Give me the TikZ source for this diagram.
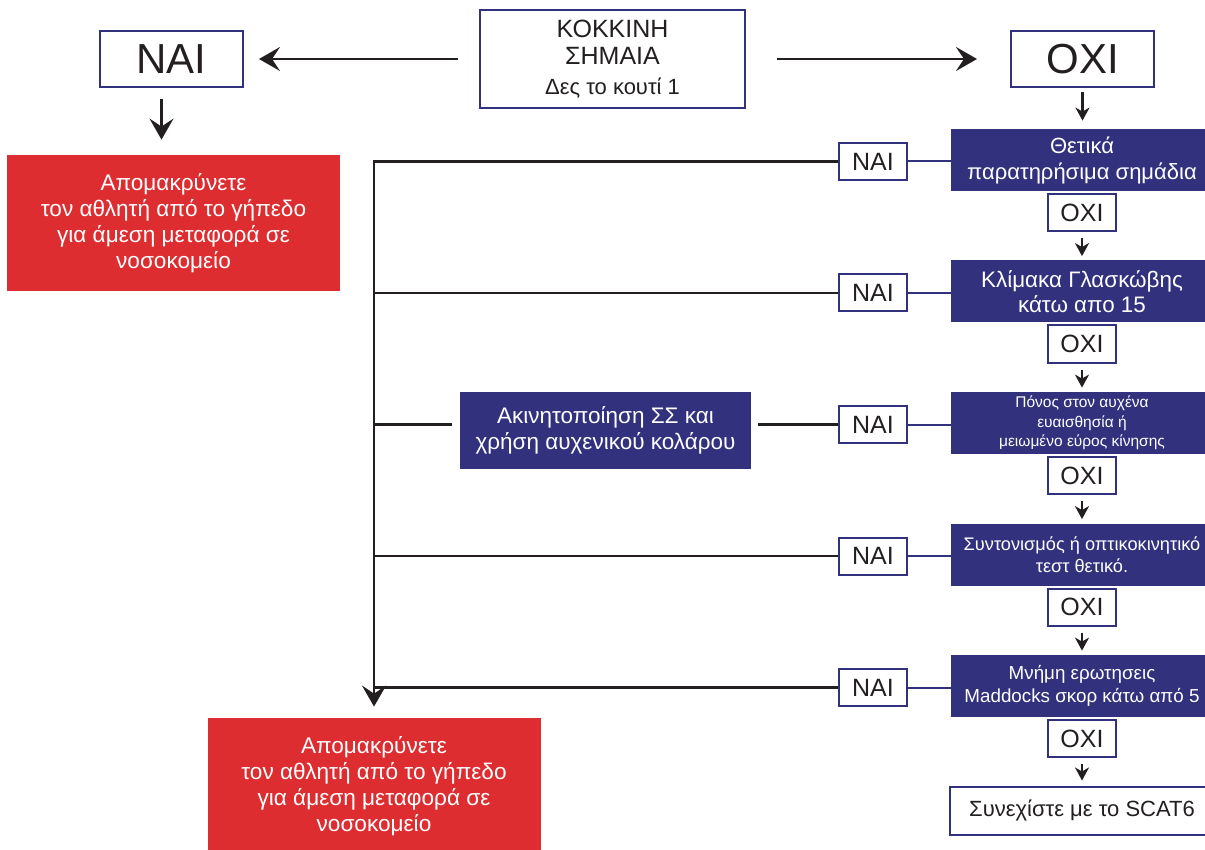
\documentclass[tikz,border=0pt]{standalone}
\usepackage{fontspec}
\setmainfont{Liberation Sans}
\usepackage{tikz}
\usetikzlibrary{positioning}
\usetikzlibrary{arrows.meta,shapes}
\usetikzlibrary{calc}

\definecolor{flagnavy}{RGB}{50,49,126}
\definecolor{flagred}{RGB}{221,45,48}
\definecolor{inkdark}{RGB}{35,31,32}

\begin{document}
\begin{tikzpicture}[x=0.5pt, y=-0.5pt,
   whitebox/.style={draw=flagnavy, line width=1pt, fill=white, text=inkdark, inner sep=0pt, align=center},
   bluebox/.style={fill=flagnavy, text=white, inner sep=0pt, align=center, minimum width=131pt, minimum height=31pt},
   redbox/.style={fill=flagred, text=white, inner sep=0pt, align=center, minimum width=166.5pt, minimum height=68pt, font=\fontsize{11.3}{13}\selectfont},
   answer/.style={whitebox, minimum width=34pt, minimum height=18.5pt, font=\fontsize{12.5}{13}\selectfont},
   bigbox/.style={whitebox, minimum width=71.5pt, minimum height=28pt, font=\fontsize{21}{22}\selectfont},
   flow/.style={inkdark, line width=1.1pt},
   link/.style={flagnavy, line width=1pt},
   bigtip/.style={-{Stealth[length=10.5pt, width=12pt, inset=4pt]}},
   smalltip/.style={-{Stealth[length=6.5pt, width=7pt, inset=2pt]}}]

 \useasboundingbox (0,0) rectangle (1205,850);

	%top row
 \node[whitebox, minimum width=132.5pt, minimum height=49pt, font=\fontsize{12.5}{13.5}\selectfont] (flag) at (612.5,59) {ΚΟΚΚΙΝΗ\\ΣΗΜΑΙΑ\\[1.5pt]{\fontsize{11}{13}\selectfont Δες το κουτί 1}};
 \node[bigbox] (yestop) at (171.5,59) {ΝΑΙ};
 \node[bigbox] (notop) at (1082.5,59) {ΟΧΙ};

    \draw[flow, bigtip, shorten <=10.5pt, shorten >=7.5pt] (flag.west) -- (yestop.east);
    \draw[flow, bigtip, shorten <=15.5pt, shorten >=16.5pt] (flag.east) -- (notop.west);

 %red boxes
 \node[redbox] (leaveone) at (173.5,223) {Απομακρύνετε\\τον αθλητή από το γήπεδο\\για άμεση μεταφορά σε\\νοσοκομείο};
 \node[redbox] (leavetwo) at (374,786) {Απομακρύνετε\\τον αθλητή από το γήπεδο\\για άμεση μεταφορά σε\\νοσοκομείο};

 \coordinate (downstart) at ([xshift=-5pt]yestop.south);
    \draw[flow, bigtip, shorten <=5.5pt, shorten >=7.5pt] (downstart) -- (downstart |- leaveone.north);

	%checks, right column
    \foreach \i/\fs/\bs/\txt in {0/11/13/{Θετικά\\παρατηρήσιμα σημάδια},
                                 1/11.2/12.5/{Κλίμακα Γλασκώβης\\κάτω απο 15},
                                 2/7.75/9.7/{Πόνος στον αυχένα\\ευαισθησία ή\\μειωμένο εύρος κίνησης},
                                 3/9.1/10.9/{Συντονισμός ή οπτικοκινητικό\\τεστ θετικό.},
                                 4/9.4/11.2/{Μνήμη ερωτησεις\\Maddocks σκορ κάτω από 5}}{
         \node[bluebox, font=\fontsize{\fs}{\bs}\selectfont] (check\i) at (1082, 160+131.5*\i) {\txt};
         \node[answer] (yes\i) at (873, 161.5+131.5*\i) {ΝΑΙ};
         \node[answer] (no\i) at (1082, 212.5+131.5*\i) {ΟΧΙ};
         \draw[link] (yes\i.east) -- (yes\i.east -| check\i.west);
    }

 \node[whitebox, minimum width=132pt, minimum height=24pt, font=\fontsize{11}{13}\selectfont] (goon) at (1082,810.5) {Συνεχίστε με το SCAT6};

    \draw[flow, smalltip, shorten <=2pt, shorten >=4pt] (notop.south) -- (notop.south |- check0.north);
    \foreach \i/\j in {0/1,1/2,2/3,3/4}{
         \draw[flow, smalltip, shorten <=3pt, shorten >=2pt] (no\i.south) -- (no\i.south |- check\j.north);
    }
    \draw[flow, smalltip, shorten <=3pt, shorten >=2.5pt] (no4.south) -- (no4.south |- goon.north);

	%left branch
 \node[bluebox, minimum width=145.5pt, minimum height=38.5pt, font=\fontsize{11.25}{13}\selectfont] (immob) at (605.5,430.5) {Ακινητοποίηση ΣΣ και\\χρήση αυχενικού κολάρου};

    \draw[flow, bigtip, shorten >=5.5pt] (yes0.west) -| (leavetwo.north);
    \foreach \i in {1,3,4}{
         \draw[flow] (yes\i.west) -- (yes\i.west -| leavetwo.north);
    }
    \draw[flow, shorten >=3.5pt] (yes2.west) -- (yes2.west -| immob.east);
    \draw[flow, shorten <=4pt] (yes2.west -| immob.west) -- (yes2.west -| leavetwo.north);

\end{tikzpicture}
\end{document}
